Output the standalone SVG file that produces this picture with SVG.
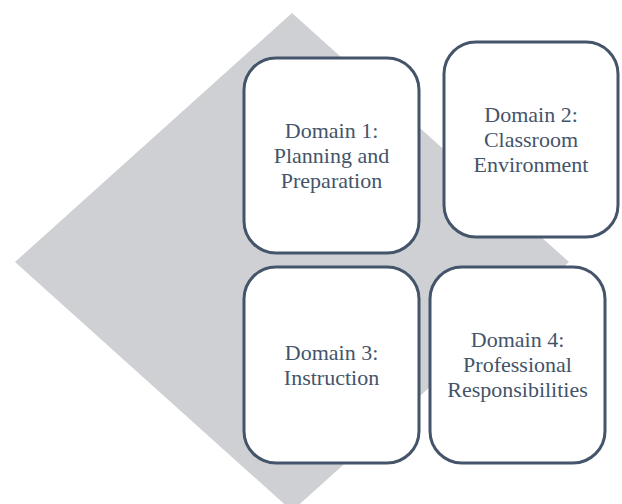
<svg xmlns="http://www.w3.org/2000/svg" width="622" height="504" viewBox="0 0 622 504">
<style>
.box{fill:#ffffff;stroke:#44546a;stroke-width:3}
.lbl{font-family:"Liberation Serif","Times New Roman",serif;font-size:22px;fill:#44546a;text-anchor:middle}
</style>
<rect width="622" height="504" fill="#ffffff"/>
<polygon id="backdrop" points="292,13 569,262 292,511 15,262" fill="#cfd0d4"/>
<g id="connectors"></g>
<g id="domain1">
<rect class="box" x="244" y="58" width="175" height="195" rx="32"/>
<text class="lbl" x="331.5" y="138">Domain 1:</text>
<text class="lbl" x="331.5" y="163">Planning and</text>
<text class="lbl" x="331.5" y="188">Preparation</text>
</g>
<g id="domain2">
<rect class="box" x="444" y="42" width="174" height="195" rx="32"/>
<text class="lbl" x="531" y="122">Domain 2:</text>
<text class="lbl" x="531" y="147">Classroom</text>
<text class="lbl" x="531" y="172">Environment</text>
</g>
<g id="domain3">
<rect class="box" x="244" y="267" width="175" height="196" rx="32"/>
<text class="lbl" x="331.5" y="360">Domain 3:</text>
<text class="lbl" x="331.5" y="385">Instruction</text>
</g>
<g id="domain4">
<rect class="box" x="430" y="267" width="175" height="196" rx="32"/>
<text class="lbl" x="517.5" y="347">Domain 4:</text>
<text class="lbl" x="517.5" y="372">Professional</text>
<text class="lbl" x="517.5" y="397">Responsibilities</text>
</g>
</svg>
